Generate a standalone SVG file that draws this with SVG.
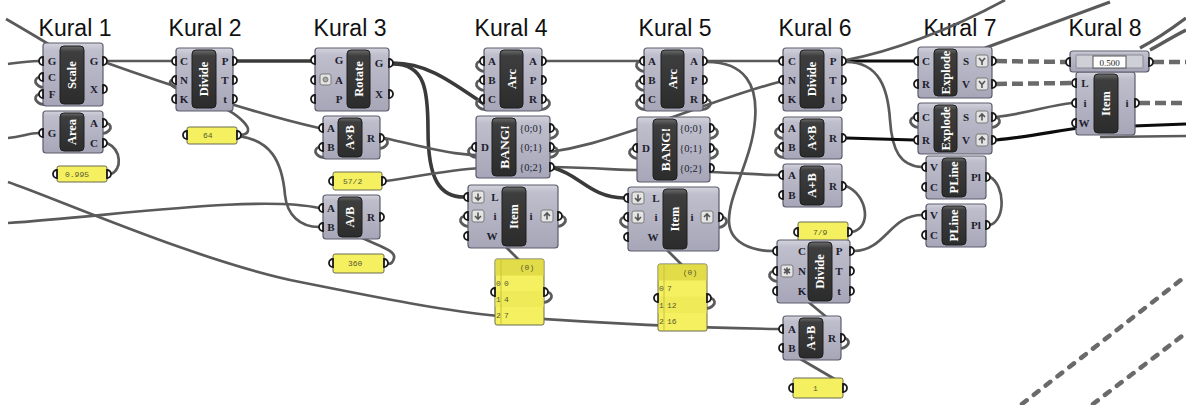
<svg xmlns="http://www.w3.org/2000/svg" xmlns:xlink="http://www.w3.org/1999/xlink" width="1186" height="405" viewBox="0 0 1186 405">
<style>
.t{font-family:"Liberation Sans",Arial,sans-serif;font-size:23px;fill:#111;text-anchor:middle}
.b{fill:url(#gb);stroke:#5c5c6c;stroke-width:1.2}
.k{fill:url(#gk);stroke:#1e1e1e;stroke-width:1}
.n{font-family:"Liberation Serif",serif;font-weight:bold;font-size:12.5px;fill:#fff;text-anchor:middle;dominant-baseline:central}
.l{font-family:"Liberation Serif",serif;font-weight:bold;font-size:11px;fill:#1e1e2e;text-anchor:middle;dominant-baseline:central}
.s{font-size:10.5px;font-weight:normal}
.p{fill:#f4f060;stroke:#6a6a50;stroke-width:1}
.ph{fill:#e2dc48}
.pr{fill:#efea58}
.pt{font-family:"Liberation Mono",monospace;font-size:8px;fill:#5a5a30;dominant-baseline:central}
.gp{fill:#fff;stroke:#1a1a1a;stroke-width:1.8}
.w{fill:none;stroke:#5a5a5a;stroke-width:2.7}
.wt{fill:none;stroke:#3a3a3a;stroke-width:3.6}
.wk{fill:none;stroke:#0c0c0c;stroke-width:3.2}
.wd{fill:none;stroke:#6a6a6a;stroke-width:4.5;stroke-dasharray:11 5}
.wdd{fill:none;stroke:#6a6a6a;stroke-width:4.5;stroke-dasharray:6 9;stroke-linecap:round}
.ic{fill:#e4e4e4;stroke:#7a7a7a;stroke-width:1}
.ia{fill:none;stroke:#555;stroke-width:1.6}
</style>
<defs>
<linearGradient id="gb" x1="0" y1="0" x2="0" y2="1"><stop offset="0" stop-color="#d4d4de"/><stop offset="0.12" stop-color="#bebecc"/><stop offset="1" stop-color="#a6a6b8"/></linearGradient>
<linearGradient id="gk" x1="0" y1="0" x2="0" y2="1"><stop offset="0" stop-color="#6c6c6c"/><stop offset="0.1" stop-color="#3e3e3e"/><stop offset="1" stop-color="#2c2c2c"/></linearGradient>
<path id="gi" class="gp" d="M0,-4 A4,4 0 0 0 0,4 Z"/>
<path id="go" class="gp" d="M0,-4 A4,4 0 0 1 0,4 Z"/>
<path id="li" class="w" d="M8,10 C-6,13 -12,3 -4,0"/>
<path id="lo" class="w" d="M-8,10 C6,13 12,3 4,0"/>
<g id="idn"><rect class="ic" x="0" y="0" width="12" height="12" rx="2"/><path class="ia" d="M6,2.5 V9 M3,6 L6,9 L9,6"/></g>
<g id="iup"><rect class="ic" x="0" y="0" width="12" height="12" rx="2"/><path class="ia" d="M6,9.5 V3 M3,6 L6,3 L9,6"/></g>
<g id="iy"><rect class="ic" x="0" y="0" width="12" height="12" rx="2"/><path class="ia" d="M3,3 L6,6.5 L9,3 M6,6.5 V10"/></g>
</defs>
<rect x="0" y="0" width="1186" height="405" fill="#fff"/>

<g id="titles">
<text class="t" x="75" y="36">Kural 1</text>
<text class="t" x="205" y="36">Kural 2</text>
<text class="t" x="350" y="36">Kural 3</text>
<text class="t" x="511" y="36">Kural 4</text>
<text class="t" x="675" y="36">Kural 5</text>
<text class="t" x="815" y="36">Kural 6</text>
<text class="t" x="960" y="36">Kural 7</text>
<text class="t" x="1105" y="36">Kural 8</text>
</g>

<g id="connectors">
<path class="w" d="M6,19 C20,27 35,36 50,45"/>
<path class="w" d="M8,64 C22,62 28,61 39,61"/>
<path class="w" d="M8,138 C22,137 28,133 39,133"/>
<path class="w" d="M107,61 L172,61"/>
<path class="w" d="M107,63 C160,82 260,115 319,128"/>
<path class="w" d="M238,135 C262,135 240,112 205,100 C178,91 165,84 172,80"/>
<path class="w" d="M238,136 C270,140 282,160 285,195 C287,215 300,227 319,227"/>
<path class="wt" d="M237,61 L311,61"/>
<path class="wt" d="M393,63 C430,63 455,85 490,108"/>
<path class="wt" d="M393,64 C425,64 428,90 428,130 C428,180 440,197 464,197"/>
<path class="w" d="M384,138 C430,148 460,158 500,155 L550,152 C590,146 615,136 650,125 C700,108 740,92 779,82"/>
<path class="w" d="M386,181 C420,176 450,170 480,168 L550,167 C600,168 620,170 640,170 L710,172 C740,173 760,175 779,175"/>
<path class="w" d="M8,223 C120,215 260,195 319,208"/>
<path class="w" d="M546,61 L640,61"/>
<path class="w" d="M707,61 L779,61"/>
<path class="w" d="M707,62 C745,62 758,85 755,120 C752,160 728,195 729,222 C730,243 752,251 773,251"/>
<path class="wt" d="M554,168 C580,175 590,197 624,198"/>
<path class="w" d="M503,244 L522,263"/>
<path class="w" d="M665,248 L684,267"/>
<path class="w" d="M806,300 L830,320"/>
<path class="w" d="M797,357 L838,381"/>
<path class="w" d="M358,236 C378,246 396,250 394,258 C393,263 390,264 388,264"/>
<path class="w" d="M8,182 C60,200 200,262 300,282 C380,298 450,312 500,316 C600,323 700,328 779,329"/>
<path class="wk" d="M846,61 L914,61"/>
<path class="w" d="M846,60 C890,52 950,30 1005,0"/>
<path class="w" d="M846,62 C880,62 888,90 890,120 C892,150 900,166 922,167"/>
<path class="w" style="stroke-width:3.2" d="M985,48 C1020,35 1060,20 1110,2"/>
<path class="w" style="stroke-width:3.4" d="M1150,50 C1160,45 1170,38 1186,30"/>
<path class="w" style="stroke-width:3.4" d="M1140,48 C1155,40 1170,30 1186,18"/>
<path class="wd" d="M996,61 L1066,62"/>
<path class="wd" d="M996,84 L1072,83"/>
<path class="wd" d="M1153,62 L1186,62"/>
<path class="wd" d="M1139,103 L1186,103"/>
<path class="wk" d="M846,138 L914,140"/>
<path class="w" d="M1100,137 L1186,136"/>
<path class="wk" d="M996,140 C1030,137 1060,130 1080,128 L1186,124"/>
<path class="w" d="M996,117 C1030,113 1050,105 1072,103"/>
<path class="w" d="M846,186 C868,195 872,228 852,232"/>
<path class="w" d="M854,251 C885,251 890,215 922,215"/>
<path class="w" d="M990,177 C1005,185 1006,220 990,225"/>
<path class="w" d="M107,143 C122,150 122,170 111,174"/>
<path class="wdd" d="M1022,404 L1186,276"/>
<path class="wdd" d="M1093,404 L1186,333"/>
<use href="#li" x="43" y="77"/>
<use href="#li" x="43" y="94"/>
<use href="#li" x="323" y="147"/>
<use href="#li" x="484" y="61"/>
<use href="#li" x="484" y="80"/>
<use href="#li" x="484" y="99"/>
<use href="#li" x="476" y="147"/>
<use href="#li" x="468" y="216"/>
<use href="#li" x="644" y="61"/>
<use href="#li" x="644" y="80"/>
<use href="#li" x="644" y="99"/>
<use href="#li" x="637" y="148"/>
<use href="#li" x="628" y="217"/>
<use href="#li" x="783" y="128"/>
<use href="#li" x="783" y="147"/>
<use href="#li" x="777" y="271"/>
<use href="#li" x="918" y="117"/>
<use href="#lo" x="103" y="123"/>
<use href="#lo" x="380" y="138"/>
<use href="#lo" x="542" y="99"/>
<use href="#lo" x="550" y="128"/>
<use href="#lo" x="550" y="147"/>
<use href="#lo" x="703" y="99"/>
<use href="#lo" x="710" y="128"/>
<use href="#lo" x="710" y="148"/>
<use href="#lo" x="558" y="216"/>
<use href="#lo" x="719" y="217"/>
<use href="#lo" x="544" y="292"/>
<use href="#lo" x="707" y="298"/>
<use href="#lo" x="841" y="338"/>
<use href="#lo" x="992" y="117"/>
</g>

<g id="scale">
<rect class="b" x="43" y="43" width="60" height="63" rx="3"/>
<rect class="k" x="60" y="46" width="24" height="58" rx="4"/>
<text class="n" transform="translate(72,75) rotate(-90)">Scale</text>
<text class="l" x="52" y="61">G</text><text class="l" x="52" y="77">C</text><text class="l" x="52" y="94">F</text>
<text class="l" x="94" y="61">G</text><text class="l" x="94" y="89">X</text>
<use href="#gi" x="43" y="61"/><use href="#gi" x="43" y="77"/><use href="#gi" x="43" y="94"/>
<use href="#go" x="103" y="61"/><use href="#go" x="103" y="89"/>
</g>

<g id="area">
<rect class="b" x="43" y="111" width="60" height="42" rx="3"/>
<rect class="k" x="60" y="113" width="24" height="38" rx="4"/>
<text class="n" transform="translate(72,132) rotate(-90)">Area</text>
<text class="l" x="52" y="133">G</text>
<text class="l" x="94" y="123">A</text><text class="l" x="94" y="143">C</text>
<use href="#gi" x="43" y="133"/>
<use href="#go" x="103" y="123"/><use href="#go" x="103" y="143"/>
</g>

<g id="panel-0995">
<rect class="p" x="57" y="166" width="50" height="16" rx="2"/>
<text class="pt" x="65" y="174">0.995</text>
<use href="#gi" x="57" y="174"/><use href="#go" x="107" y="174"/>
</g>

<g id="divide2">
<rect class="b" x="176" y="48" width="57" height="63" rx="3"/>
<rect class="k" x="192" y="50" width="24" height="58" rx="4"/>
<text class="n" transform="translate(204,79) rotate(-90)">Divide</text>
<text class="l" x="184" y="61">C</text><text class="l" x="184" y="80">N</text><text class="l" x="184" y="99">K</text>
<text class="l" x="225" y="61">P</text><text class="l" x="225" y="80">T</text><text class="l" x="225" y="99">t</text>
<use href="#gi" x="176" y="61"/><use href="#gi" x="176" y="80"/><use href="#gi" x="176" y="99"/>
<use href="#go" x="233" y="61"/><use href="#go" x="233" y="80"/><use href="#go" x="233" y="99"/>
</g>

<g id="panel-64">
<rect class="p" x="187" y="127" width="50" height="17" rx="2"/>
<text class="pt" x="203" y="135.5">64</text>
<use href="#gi" x="187" y="135"/><use href="#go" x="237" y="135"/>
</g>

<g id="rotate">
<rect class="b" x="315" y="48" width="74" height="63" rx="3"/>
<rect class="k" x="347" y="50" width="23" height="58" rx="4"/>
<text class="n" transform="translate(358.5,79) rotate(-90)">Rotate</text>
<rect class="ic" x="320" y="74" width="11" height="11" rx="2"/><circle cx="325.5" cy="79.5" r="2.5" fill="#aaa" stroke="#666" stroke-width="0.8"/>
<text class="l" x="339" y="60">G</text><text class="l" x="339" y="80">A</text><text class="l" x="339" y="99">P</text>
<text class="l" x="379" y="63">G</text><text class="l" x="379" y="94">X</text>
<use href="#gi" x="315" y="60"/><use href="#gi" x="315" y="80"/><use href="#gi" x="315" y="99"/>
<use href="#go" x="389" y="63"/><use href="#go" x="389" y="94"/>
</g>

<g id="axb3">
<rect class="b" x="323" y="116" width="57" height="43" rx="3"/>
<rect class="k" x="338" y="118" width="24" height="39" rx="4"/>
<text class="n" transform="translate(350,137.5) rotate(-90)">A×B</text>
<text class="l" x="331" y="128">A</text><text class="l" x="331" y="147">B</text>
<text class="l" x="371" y="138">R</text>
<use href="#gi" x="323" y="128"/><use href="#gi" x="323" y="147"/><use href="#go" x="380" y="138"/>
</g>

<g id="panel-57-2">
<rect class="p" x="333" y="172" width="49" height="18" rx="2"/>
<text class="pt" x="343" y="181">57/2</text>
<use href="#gi" x="333" y="181"/><use href="#go" x="382" y="181"/>
</g>

<g id="adivb3">
<rect class="b" x="323" y="195" width="57" height="44" rx="3"/>
<rect class="k" x="338" y="197" width="24" height="40" rx="4"/>
<text class="n" transform="translate(350,217) rotate(-90)">A/B</text>
<text class="l" x="331" y="208">A</text><text class="l" x="331" y="227">B</text>
<text class="l" x="371" y="217">R</text>
<use href="#gi" x="323" y="208"/><use href="#gi" x="323" y="227"/><use href="#go" x="380" y="217"/>
</g>

<g id="panel-360">
<rect class="p" x="333" y="254" width="51" height="19" rx="2"/>
<text class="pt" x="348" y="263.5">360</text>
<use href="#gi" x="333" y="263"/><use href="#go" x="384" y="263"/>
</g>

<g id="arc4">
<rect class="b" x="484" y="48" width="58" height="63" rx="3"/>
<rect class="k" x="500" y="50" width="23" height="58" rx="4"/>
<text class="n" transform="translate(511.5,79) rotate(-90)">Arc</text>
<text class="l" x="492" y="61">A</text><text class="l" x="492" y="80">B</text><text class="l" x="492" y="99">C</text>
<text class="l" x="533" y="61">A</text><text class="l" x="533" y="80">P</text><text class="l" x="533" y="99">R</text>
<use href="#gi" x="484" y="61"/><use href="#gi" x="484" y="80"/><use href="#gi" x="484" y="99"/>
<use href="#go" x="542" y="61"/><use href="#go" x="542" y="80"/><use href="#go" x="542" y="99"/>
</g>

<g id="bang4">
<rect class="b" x="476" y="116" width="74" height="62" rx="3"/>
<rect class="k" x="492" y="118" width="24" height="58" rx="4"/>
<text class="n" style="font-size:13.5px" transform="translate(504,147) rotate(-90)">BANG!</text>
<text class="l" x="485" y="147">D</text>
<text class="l s" x="531" y="128">{0;0}</text><text class="l s" x="531" y="147">{0;1}</text><text class="l s" x="531" y="167">{0;2}</text>
<use href="#gi" x="476" y="147"/>
<use href="#go" x="550" y="128"/><use href="#go" x="550" y="147"/><use href="#go" x="550" y="167"/>
</g>

<g id="item4">
<rect class="b" x="468" y="185" width="90" height="63" rx="3"/>
<rect class="k" x="502" y="187" width="24" height="59" rx="4"/>
<text class="n" transform="translate(514,216.5) rotate(-90)">Item</text>
<use href="#idn" x="472" y="191"/><use href="#idn" x="472" y="210"/>
<text class="l" x="495" y="197">L</text><text class="l" x="495" y="216">i</text><text class="l" x="492" y="236">W</text>
<text class="l" x="531" y="216">i</text><use href="#iup" x="541" y="210"/>
<use href="#gi" x="468" y="197"/><use href="#gi" x="468" y="216"/><use href="#gi" x="468" y="236"/>
<use href="#go" x="558" y="216"/>
</g>

<g id="panel4">
<rect class="p" x="495" y="259" width="49" height="66" rx="2"/>
<rect class="ph" x="495.5" y="259.5" width="48" height="16"/>
<rect class="pr" x="495.5" y="291" width="48" height="16"/>
<line x1="501" y1="260" x2="501" y2="324" stroke="#c8c240" stroke-width="1"/>
<text class="pt" x="527" y="267" text-anchor="middle">(0)</text>
<text class="pt" x="496" y="283">0</text><text class="pt" x="504" y="283">0</text>
<text class="pt" x="496" y="299">1</text><text class="pt" x="504" y="299">4</text>
<text class="pt" x="496" y="315">2</text><text class="pt" x="504" y="315">7</text>
<use href="#gi" x="495" y="292"/><use href="#go" x="544" y="292"/>
</g>

<g id="arc5">
<rect class="b" x="644" y="48" width="59" height="63" rx="3"/>
<rect class="k" x="661" y="50" width="23" height="58" rx="4"/>
<text class="n" transform="translate(672.5,79) rotate(-90)">Arc</text>
<text class="l" x="652" y="61">A</text><text class="l" x="652" y="80">B</text><text class="l" x="652" y="99">C</text>
<text class="l" x="694" y="61">A</text><text class="l" x="694" y="80">P</text><text class="l" x="694" y="99">R</text>
<use href="#gi" x="644" y="61"/><use href="#gi" x="644" y="80"/><use href="#gi" x="644" y="99"/>
<use href="#go" x="703" y="61"/><use href="#go" x="703" y="80"/><use href="#go" x="703" y="99"/>
</g>

<g id="bang5">
<rect class="b" x="637" y="117" width="73" height="65" rx="3"/>
<rect class="k" x="653" y="119" width="24" height="61" rx="4"/>
<text class="n" style="font-size:13.5px" transform="translate(665,149.5) rotate(-90)">BANG!</text>
<text class="l" x="646" y="148">D</text>
<text class="l s" x="691" y="128">{0;0}</text><text class="l s" x="691" y="148">{0;1}</text><text class="l s" x="691" y="168">{0;2}</text>
<use href="#gi" x="637" y="148"/>
<use href="#go" x="710" y="128"/><use href="#go" x="710" y="148"/><use href="#go" x="710" y="168"/>
</g>

<g id="item5">
<rect class="b" x="628" y="187" width="91" height="64" rx="3"/>
<rect class="k" x="663" y="189" width="24" height="60" rx="4"/>
<text class="n" transform="translate(675,219) rotate(-90)">Item</text>
<use href="#idn" x="632" y="192"/><use href="#idn" x="632" y="211"/>
<text class="l" x="656" y="198">L</text><text class="l" x="656" y="217">i</text><text class="l" x="653" y="237">W</text>
<text class="l" x="692" y="217">i</text><use href="#iup" x="701" y="211"/>
<use href="#gi" x="628" y="198"/><use href="#gi" x="628" y="217"/><use href="#gi" x="628" y="237"/>
<use href="#go" x="719" y="217"/>
</g>

<g id="panel5">
<rect class="p" x="658" y="264" width="49" height="67" rx="2"/>
<rect class="ph" x="658.5" y="264.5" width="48" height="16"/>
<rect class="pr" x="658.5" y="296.5" width="48" height="16.5"/>
<line x1="664" y1="265" x2="664" y2="330" stroke="#c8c240" stroke-width="1"/>
<text class="pt" x="690" y="272" text-anchor="middle">(0)</text>
<text class="pt" x="659" y="288">0</text><text class="pt" x="667" y="288">7</text>
<text class="pt" x="659" y="305">1</text><text class="pt" x="667" y="305">12</text>
<text class="pt" x="659" y="321">2</text><text class="pt" x="667" y="321">16</text>
<use href="#gi" x="658" y="298"/><use href="#go" x="707" y="298"/>
</g>

<g id="divide6">
<rect class="b" x="783" y="48" width="59" height="63" rx="3"/>
<rect class="k" x="800" y="50" width="24" height="58" rx="4"/>
<text class="n" transform="translate(812,79) rotate(-90)">Divide</text>
<text class="l" x="792" y="61">C</text><text class="l" x="792" y="80">N</text><text class="l" x="792" y="99">K</text>
<text class="l" x="833" y="61">P</text><text class="l" x="833" y="80">T</text><text class="l" x="833" y="99">t</text>
<use href="#gi" x="783" y="61"/><use href="#gi" x="783" y="80"/><use href="#gi" x="783" y="99"/>
<use href="#go" x="842" y="61"/><use href="#go" x="842" y="80"/><use href="#go" x="842" y="99"/>
</g>

<g id="axb6">
<rect class="b" x="783" y="117" width="59" height="42" rx="3"/>
<rect class="k" x="800" y="119" width="24" height="38" rx="4"/>
<text class="n" transform="translate(812,138) rotate(-90)">A×B</text>
<text class="l" x="792" y="128">A</text><text class="l" x="792" y="147">B</text>
<text class="l" x="833" y="138">R</text>
<use href="#gi" x="783" y="128"/><use href="#gi" x="783" y="147"/><use href="#go" x="842" y="138"/>
</g>

<g id="apb6">
<rect class="b" x="783" y="164" width="59" height="43" rx="3"/>
<rect class="k" x="800" y="166" width="24" height="39" rx="4"/>
<text class="n" transform="translate(812,185.5) rotate(-90)">A+B</text>
<text class="l" x="792" y="175">A</text><text class="l" x="792" y="195">B</text>
<text class="l" x="833" y="186">R</text>
<use href="#gi" x="783" y="175"/><use href="#gi" x="783" y="195"/><use href="#go" x="842" y="186"/>
</g>

<g id="panel-7-9">
<rect class="p" x="798" y="222" width="50" height="20" rx="2"/>
<text class="pt" x="813" y="232">7/9</text>
<use href="#gi" x="798" y="232"/><use href="#go" x="848" y="232"/>
</g>

<g id="divide6b">
<rect class="b" x="777" y="240" width="73" height="63" rx="3"/>
<rect class="k" x="808" y="242" width="24" height="59" rx="4"/>
<text class="n" transform="translate(820,271.5) rotate(-90)">Divide</text>
<rect class="ic" x="781" y="265" width="12" height="12" rx="2"/>
<path class="ia" d="M787,267.5 V274.5 M784,269 L790,273 M784,273 L790,269"/>
<text class="l" x="802" y="251">C</text><text class="l" x="802" y="271">N</text><text class="l" x="802" y="291">K</text>
<text class="l" x="839" y="251">P</text><text class="l" x="839" y="271">T</text><text class="l" x="839" y="291">t</text>
<use href="#gi" x="777" y="251"/><use href="#gi" x="777" y="271"/><use href="#gi" x="777" y="291"/>
<use href="#go" x="850" y="251"/><use href="#go" x="850" y="271"/><use href="#go" x="850" y="291"/>
</g>

<g id="apb6b">
<rect class="b" x="783" y="316" width="58" height="44" rx="3"/>
<rect class="k" x="799" y="318" width="24" height="40" rx="4"/>
<text class="n" transform="translate(811,338) rotate(-90)">A+B</text>
<text class="l" x="792" y="329">A</text><text class="l" x="792" y="348">B</text>
<text class="l" x="832" y="338">R</text>
<use href="#gi" x="783" y="329"/><use href="#gi" x="783" y="348"/><use href="#go" x="841" y="338"/>
</g>

<g id="panel-1">
<rect class="p" x="793" y="378" width="50" height="20" rx="2"/>
<text class="pt" x="813" y="388">1</text>
<use href="#gi" x="793" y="388"/><use href="#go" x="843" y="388"/>
</g>

<g id="explode1">
<rect class="b" x="918" y="47" width="74" height="51" rx="3"/>
<rect class="k" x="934" y="49" width="23" height="47" rx="4"/>
<text class="n" transform="translate(945.5,72.5) rotate(-90)">Explode</text>
<text class="l" x="926" y="61">C</text><text class="l" x="926" y="84">R</text>
<text class="l" x="966" y="61">S</text><text class="l" x="966" y="84">V</text>
<use href="#iy" x="976" y="55"/><use href="#iy" x="976" y="78"/>
<use href="#gi" x="918" y="61"/><use href="#gi" x="918" y="84"/>
<use href="#go" x="992" y="61"/><use href="#go" x="992" y="84"/>
</g>

<g id="explode2">
<rect class="b" x="918" y="103" width="74" height="51" rx="3"/>
<rect class="k" x="934" y="105" width="23" height="47" rx="4"/>
<text class="n" transform="translate(945.5,128.5) rotate(-90)">Explode</text>
<text class="l" x="926" y="117">C</text><text class="l" x="926" y="140">R</text>
<text class="l" x="966" y="117">S</text><text class="l" x="966" y="140">V</text>
<use href="#iup" x="976" y="111"/><use href="#iup" x="976" y="134"/>
<use href="#gi" x="918" y="117"/><use href="#gi" x="918" y="140"/>
<use href="#go" x="992" y="117"/><use href="#go" x="992" y="140"/>
</g>

<g id="pline1">
<rect class="b" x="926" y="156" width="60" height="43" rx="3"/>
<rect class="k" x="942" y="158" width="24" height="39" rx="4"/>
<text class="n" transform="translate(954,177.5) rotate(-90)">PLine</text>
<text class="l" x="934" y="167">V</text><text class="l" x="934" y="187">C</text>
<text class="l" x="976" y="177">Pl</text>
<use href="#gi" x="926" y="167"/><use href="#gi" x="926" y="187"/><use href="#go" x="986" y="177"/>
</g>

<g id="pline2">
<rect class="b" x="926" y="204" width="60" height="43" rx="3"/>
<rect class="k" x="942" y="206" width="24" height="39" rx="4"/>
<text class="n" transform="translate(954,225.5) rotate(-90)">PLine</text>
<text class="l" x="934" y="215">V</text><text class="l" x="934" y="235">C</text>
<text class="l" x="976" y="225">Pl</text>
<use href="#gi" x="926" y="215"/><use href="#gi" x="926" y="235"/><use href="#go" x="986" y="225"/>
</g>

<g id="item8">
<rect class="b" x="1076" y="72" width="59" height="63" rx="3"/>
<rect class="k" x="1094" y="74" width="24" height="59" rx="4"/>
<text class="n" transform="translate(1106,103.5) rotate(-90)">Item</text>
<text class="l" x="1085" y="83">L</text><text class="l" x="1085" y="103">i</text><text class="l" x="1084" y="123">W</text>
<text class="l" x="1127" y="103">i</text>
<use href="#gi" x="1076" y="83"/><use href="#gi" x="1076" y="103"/><use href="#gi" x="1076" y="123"/>
<use href="#go" x="1135" y="103"/>
</g>

<g id="slider8">
<rect class="b" x="1070" y="51" width="79" height="21" rx="3"/>
<rect x="1076" y="55" width="67" height="13" rx="1" fill="#cfcfd8" stroke="#8a8a96" stroke-width="1"/>
<rect x="1093" y="56" width="33" height="12" fill="#fff" stroke="#555" stroke-width="1"/>
<text x="1109.5" y="62.5" text-anchor="middle" dominant-baseline="central" font-family="Liberation Serif, serif" font-size="9" fill="#222">0.500</text>
<use href="#gi" x="1070" y="62"/><use href="#go" x="1149" y="62"/>
</g>
</svg>
